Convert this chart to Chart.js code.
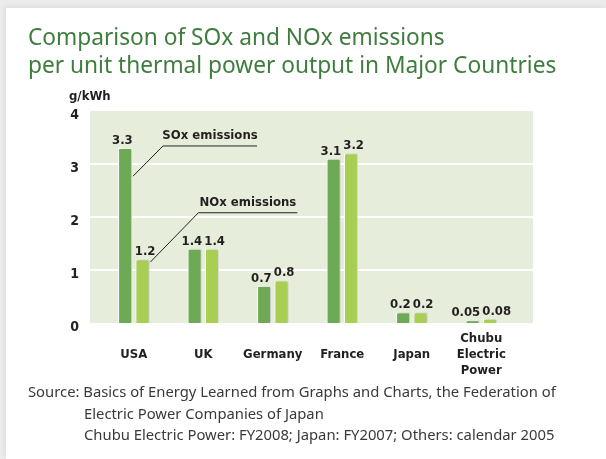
<!DOCTYPE html>
<html>
<head>
<meta charset="utf-8">
<script src="https://cdn.jsdelivr.net/npm/chart.js@4"></script>
<style>
  html, body { margin: 0; padding: 0; }
  body { width: 606px; height: 459px; background: #ececec; position: relative; overflow: hidden; }
  .card { position: absolute; left: 6px; top: 8px; right: 0; bottom: 0; background: #fff;
          box-shadow: -2px -2px 5px rgba(0,0,0,0.06); }
  #chart { position: absolute; left: 0; top: 0; }
  .title { position: absolute; left: 28px; top: 23px; font-family: "Noto Sans", sans-serif;
           font-size: 22.7px; line-height: 28px; color: #3f7d3f; white-space: nowrap; }
  .source { position: absolute; left: 28px; top: 381px; font-family: "Noto Sans", sans-serif;
            font-size: 14.8px; line-height: 21.5px; color: #3a3a3a; white-space: nowrap; }
  .source .ind { padding-left: 56px; }
</style>
</head>
<body>
<div class="card"></div>
<canvas id="chart" width="606" height="459"></canvas>
<div class="title">Comparison of SOx and NOx emissions<br>per unit thermal power output in Major Countries</div>
<div class="source">
  <div>Source: Basics of Energy Learned from Graphs and Charts, the Federation of</div>
  <div class="ind">Electric Power Companies of Japan</div>
  <div class="ind">Chubu Electric Power: FY2008; Japan: FY2007; Others: calendar 2005</div>
</div>
<script>
const categories = ['USA', 'UK', 'Germany', 'France', 'Japan', ['Chubu', 'Electric', 'Power']];
const soxValues = [3.3, 1.4, 0.7, 3.1, 0.2, 0.05];
const noxValues = [1.2, 1.4, 0.8, 3.2, 0.2, 0.08];
const soxLabels = ['3.3', '1.4', '0.7', '3.1', '0.2', '0.05'];
const noxLabels = ['1.2', '1.4', '0.8', '3.2', '0.2', '0.08'];
const yTicks = [0, 1, 2, 3, 4];

const labelFont = 'bold 13px "DejaVu Sans Condensed", sans-serif';
const ink = '#231f20';

// plot panel is wider than the category band
const panelLeft = 90, panelRight = 533;

const panelPlugin = {
    id: 'panel',
    beforeDatasetsDraw(chart) {
        const { ctx, scales: { y } } = chart;
        const top = y.getPixelForValue(4), bottom = y.getPixelForValue(0);
        ctx.save();
        ctx.fillStyle = '#e6eedb';
        ctx.fillRect(panelLeft, top, panelRight - panelLeft, bottom - top);
        ctx.strokeStyle = '#ffffff';
        ctx.lineWidth = 2;
        yTicks.slice(1, -1).forEach(v => {
            const py = Math.round(y.getPixelForValue(v));
            ctx.beginPath();
            ctx.moveTo(panelLeft, py);
            ctx.lineTo(panelRight, py);
            ctx.stroke();
        });
        ctx.restore();
        // soft shadow on bars
        ctx.save();
        ctx.shadowColor = 'rgba(0,0,0,0.22)';
        ctx.shadowOffsetX = 1.5;
        ctx.shadowOffsetY = 0;
        ctx.shadowBlur = 2;
    },
    afterDatasetsDraw(chart) {
        chart.ctx.restore();
    }
};

const valueLabels = {
    id: 'valueLabels',
    afterDraw(chart) {
        const { ctx } = chart;
        const a = chart.getDatasetMeta(0).data;
        const b = chart.getDatasetMeta(1).data;
        ctx.save();
        ctx.font = labelFont;
        ctx.fillStyle = ink;
        ctx.textAlign = 'center';
        ctx.textBaseline = 'bottom';
        a.forEach((barA, i) => {
            const barB = b[i];
            const tA = soxLabels[i], tB = noxLabels[i];
            const wA = ctx.measureText(tA).width, wB = ctx.measureText(tB).width;
            let xA = barA.x, xB = barB.x;
            // push apart when labels collide
            const need = (wA + wB) / 2 + 2;
            if (xB - xA < need) {
                const d = (need - (xB - xA)) / 2;
                xA -= d; xB += d;
            }
            ctx.fillText(tA, xA, barA.y - 1);
            ctx.fillText(tB, xB, barB.y - 1);
        });

        // leader annotations
        const y = chart.scales.y;
        const notes = [
            { bar: a[0], from: 2.77, to: 3.34, dx: 30, len: 94, text: 'SOx emissions' },
            { bar: b[0], from: 1.15, to: 2.08, dx: 48, len: 99, text: 'NOx emissions' }
        ];
        ctx.strokeStyle = '#222';
        ctx.lineWidth = 1;
        notes.forEach(n => {
            const x0 = n.bar.x + n.bar.width / 2 + 1;
            const y0 = y.getPixelForValue(n.from);
            const x1 = x0 + n.dx;
            const y1 = y.getPixelForValue(n.to);
            ctx.beginPath();
            ctx.moveTo(x0, y0);
            ctx.lineTo(x1, y1);
            ctx.lineTo(x1 + n.len, y1);
            ctx.stroke();
            ctx.fillText(n.text, x1 + n.len / 2, y1 - 4);
        });
        ctx.restore();
    }
};

new Chart(document.getElementById('chart'), {
    type: 'bar',
    data: {
        labels: categories,
        datasets: [
            {
                label: 'SOx emissions',
                data: soxValues,
                backgroundColor: '#6ea955',
                borderColor: '#ffffff',
                borderWidth: 1
            },
            {
                label: 'NOx emissions',
                data: noxValues,
                backgroundColor: '#a9cf52',
                borderColor: '#ffffff',
                borderWidth: 1
            }
        ]
    },
    options: {
        responsive: false,
        animation: false,
        layout: { padding: { left: 59, right: 90, top: 111, bottom: 76 } },
        datasets: { bar: { categoryPercentage: 0.5, barPercentage: 0.8 } },
        scales: {
            x: {
                grid: { display: false, drawTicks: false },
                border: { display: false },
                afterFit(scale) { scale.height = 60; },
                ticks: {
                    padding: 7,
                    color: ink,
                    font: { family: '"DejaVu Sans Condensed", sans-serif', size: 13, weight: 'bold', lineHeight: 1.25 },
                    maxRotation: 0,
                    autoSkip: false,
                    callback: function (v, i) {
                        const l = categories[i];
                        return Array.isArray(l) ? l : ['', l];
                    }
                }
            },
            y: {
                min: 0,
                max: 4,
                grid: { display: false, drawTicks: false },
                border: { display: false },
                afterFit(scale) { scale.width = 40; },
                afterBuildTicks(scale) { scale.ticks = yTicks.map(v => ({ value: v })); },
                ticks: {
                    padding: 20,
                    labelOffset: 4,
                    color: ink,
                    font: { family: '"DejaVu Sans Condensed", sans-serif', size: 14, weight: 'bold' }
                }
            }
        },
        plugins: {
            legend: { display: false },
            tooltip: { enabled: false }
        }
    },
    plugins: [panelPlugin, valueLabels, {
        id: 'unitLabel',
        afterDraw(chart) {
            const { ctx } = chart;
            ctx.save();
            ctx.font = labelFont;
            ctx.fillStyle = ink;
            ctx.textAlign = 'left';
            ctx.textBaseline = 'middle';
            ctx.fillText('g/kWh', 69, 97);
            ctx.restore();
        }
    }]
});
</script>
</body>
</html>
